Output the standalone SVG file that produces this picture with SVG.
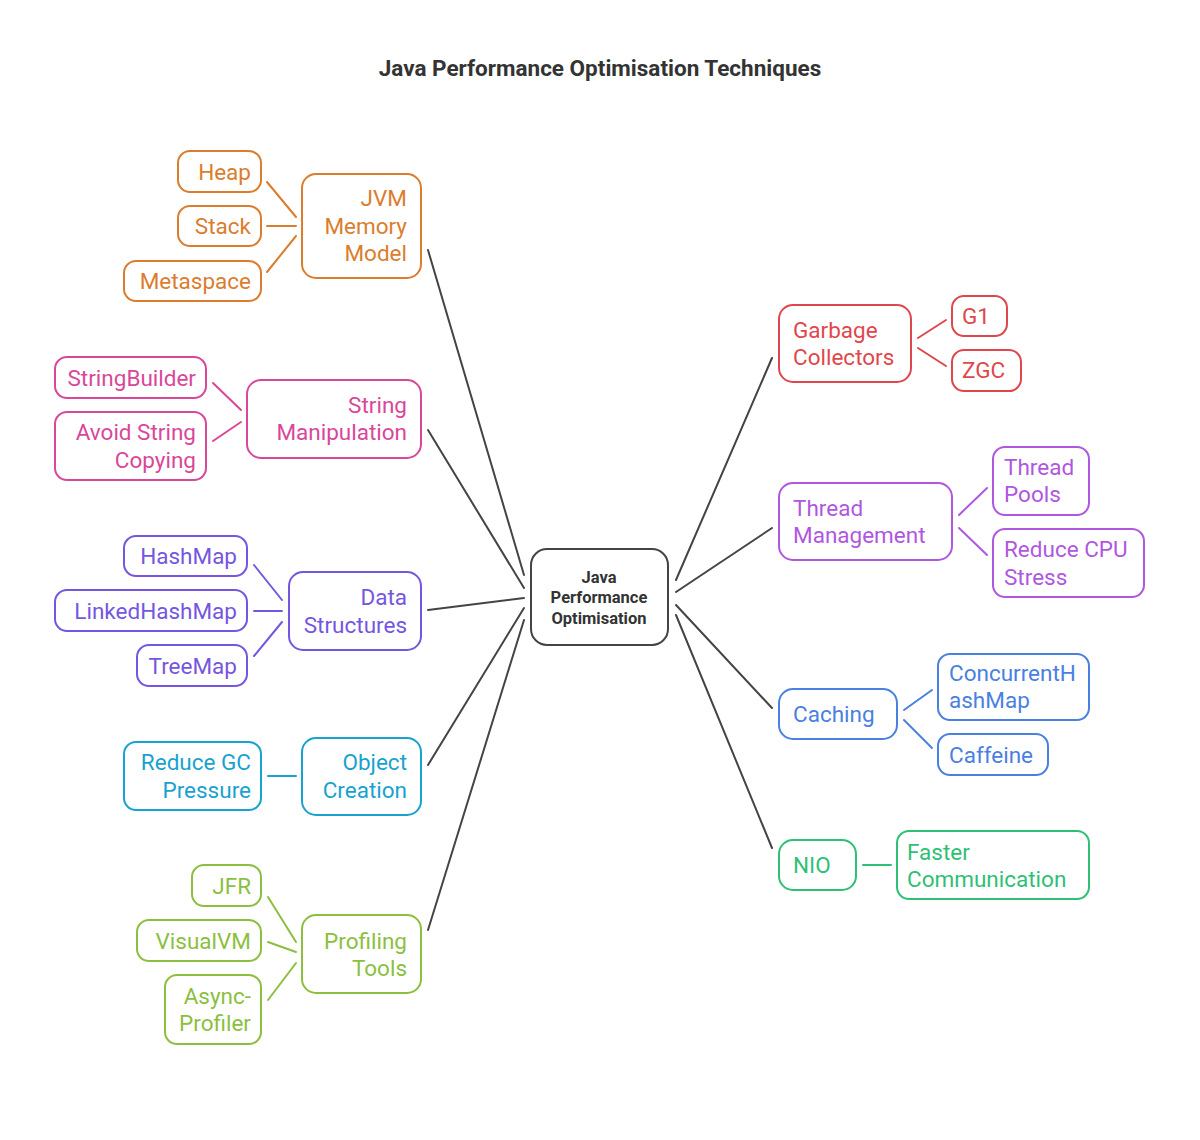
<svg xmlns="http://www.w3.org/2000/svg" width="1200" height="1140" viewBox="0 0 1200 1140">
<style>
text{font-family:Roboto,"Liberation Sans",sans-serif;font-size:22.5px}
.r{text-anchor:end}
.box{fill:#fff;stroke-width:2}
.c line{stroke-width:2;stroke-linecap:round}
.org{stroke:#DB7D2E}.torg{fill:#DB7D2E}
.pnk{stroke:#D9479A}.tpnk{fill:#D9479A}
.pur{stroke:#7556E0}.tpur{fill:#7556E0}
.cya{stroke:#19A2CF}.tcya{fill:#19A2CF}
.lim{stroke:#8CBF3F}.tlim{fill:#8CBF3F}
.red{stroke:#E0474C}.tred{fill:#E0474C}
.vio{stroke:#B057E0}.tvio{fill:#B057E0}
.blu{stroke:#4A80E0}.tblu{fill:#4A80E0}
.grn{stroke:#2FBF76}.tgrn{fill:#2FBF76}
.dk{stroke:#444}
.ct{font-size:16.5px;font-weight:bold;text-anchor:middle;fill:#333}
</style>
<rect width="1200" height="1140" fill="#fff"/>
<text x="600" y="76" text-anchor="middle" style="font-size:22.5px;font-weight:bold" fill="#333">Java Performance Optimisation Techniques</text>
<g class="c" id="connectors">
<line class="dk" x1="428" y1="250" x2="524" y2="575"/>
<line class="dk" x1="428" y1="430" x2="524" y2="588"/>
<line class="dk" x1="428" y1="610" x2="524" y2="598"/>
<line class="dk" x1="428" y1="765" x2="524" y2="608"/>
<line class="dk" x1="428" y1="930" x2="524" y2="620"/>
<line class="dk" x1="676" y1="580" x2="772" y2="358"/>
<line class="dk" x1="676" y1="592" x2="772" y2="528"/>
<line class="dk" x1="676" y1="605" x2="772" y2="708"/>
<line class="dk" x1="676" y1="615" x2="772" y2="848"/>
<line class="org" x1="267" y1="182" x2="296" y2="217"/>
<line class="org" x1="267" y1="226" x2="296" y2="226"/>
<line class="org" x1="267" y1="272" x2="296" y2="236"/>
<line class="pnk" x1="213" y1="383" x2="241" y2="410"/>
<line class="pnk" x1="213" y1="441" x2="241" y2="422"/>
<line class="pur" x1="254" y1="565" x2="282" y2="600"/>
<line class="pur" x1="254" y1="611" x2="282" y2="611"/>
<line class="pur" x1="254" y1="656" x2="282" y2="622"/>
<line class="cya" x1="268" y1="776" x2="296" y2="776"/>
<line class="lim" x1="268" y1="897" x2="296" y2="942"/>
<line class="lim" x1="268" y1="942" x2="296" y2="952"/>
<line class="lim" x1="268" y1="1000" x2="296" y2="963"/>
<line class="red" x1="918" y1="338" x2="946" y2="320"/>
<line class="red" x1="918" y1="348" x2="946" y2="366"/>
<line class="vio" x1="959" y1="515" x2="987" y2="488"/>
<line class="vio" x1="959" y1="528" x2="987" y2="555"/>
<line class="blu" x1="904" y1="710" x2="932" y2="690"/>
<line class="blu" x1="904" y1="720" x2="932" y2="748"/>
<line class="grn" x1="863" y1="865" x2="891" y2="865"/>
</g>
<g id="center">
<rect class="box dk" x="531" y="549" width="137" height="96" rx="16"/>
<text class="ct" x="599" y="583">Java</text>
<text class="ct" x="599" y="603">Performance</text>
<text class="ct" x="599" y="624">Optimisation</text>
</g>
<g id="jvm"><rect class="box org" x="302" y="174" width="119" height="104" rx="14"/>
<text class="r torg" x="407" y="206">JVM</text><text class="r torg" x="407" y="234">Memory</text><text class="r torg" x="407" y="261">Model</text></g>
<g id="heap"><rect class="box org" x="178" y="151" width="83" height="41" rx="12"/><text class="r torg" x="251" y="180">Heap</text></g>
<g id="stack"><rect class="box org" x="178" y="206" width="83" height="40" rx="12"/><text class="r torg" x="251" y="234">Stack</text></g>
<g id="metaspace"><rect class="box org" x="124" y="261" width="137" height="40" rx="12"/><text class="r torg" x="251" y="289">Metaspace</text></g>

<g id="string"><rect class="box pnk" x="247" y="380" width="174" height="78" rx="14"/>
<text class="r tpnk" x="407" y="413">String</text><text class="r tpnk" x="407" y="440">Manipulation</text></g>
<g id="sb"><rect class="box pnk" x="55" y="357" width="151" height="41" rx="12"/><text class="r tpnk" x="196" y="386">StringBuilder</text></g>
<g id="avoid"><rect class="box pnk" x="55" y="412" width="151" height="68" rx="12"/><text class="r tpnk" x="196" y="440">Avoid String</text><text class="r tpnk" x="196" y="468">Copying</text></g>

<g id="data"><rect class="box pur" x="289" y="572" width="132" height="78" rx="14"/>
<text class="r tpur" x="407" y="605">Data</text><text class="r tpur" x="407" y="633">Structures</text></g>
<g id="hashmap"><rect class="box pur" x="124" y="536" width="123" height="40" rx="12"/><text class="r tpur" x="237" y="564">HashMap</text></g>
<g id="linked"><rect class="box pur" x="55" y="590" width="192" height="41" rx="12"/><text class="r tpur" x="237" y="619">LinkedHashMap</text></g>
<g id="treemap"><rect class="box pur" x="137" y="645" width="110" height="41" rx="12"/><text class="r tpur" x="237" y="674">TreeMap</text></g>

<g id="object"><rect class="box cya" x="302" y="738" width="119" height="77" rx="14"/>
<text class="r tcya" x="407" y="770">Object</text><text class="r tcya" x="407" y="798">Creation</text></g>
<g id="gcp"><rect class="box cya" x="124" y="742" width="137" height="68" rx="12"/><text class="r tcya" x="251" y="770">Reduce GC</text><text class="r tcya" x="251" y="798">Pressure</text></g>

<g id="profiling"><rect class="box lim" x="302" y="915" width="119" height="78" rx="14"/>
<text class="r tlim" x="407" y="949">Profiling</text><text class="r tlim" x="407" y="976">Tools</text></g>
<g id="jfr"><rect class="box lim" x="192" y="865" width="69" height="41" rx="12"/><text class="r tlim" x="251" y="894">JFR</text></g>
<g id="visualvm"><rect class="box lim" x="137" y="920" width="124" height="41" rx="12"/><text class="r tlim" x="251" y="949">VisualVM</text></g>
<g id="async"><rect class="box lim" x="165" y="975" width="96" height="69" rx="12"/><text class="r tlim" x="251" y="1004">Async-</text><text class="r tlim" x="251" y="1031">Profiler</text></g>

<g id="gc"><rect class="box red" x="779" y="305" width="132" height="77" rx="14"/>
<text class="tred" x="793" y="338">Garbage</text><text class="tred" x="793" y="365">Collectors</text></g>
<g id="g1"><rect class="box red" x="952" y="296" width="55" height="40" rx="12"/><text class="tred" x="962" y="324">G1</text></g>
<g id="zgc"><rect class="box red" x="952" y="350" width="69" height="41" rx="12"/><text class="tred" x="962" y="378">ZGC</text></g>

<g id="thread"><rect class="box vio" x="779" y="483" width="173" height="77" rx="14"/>
<text class="tvio" x="793" y="516">Thread</text><text class="tvio" x="793" y="543">Management</text></g>
<g id="pools"><rect class="box vio" x="993" y="447" width="96" height="68" rx="12"/><text class="tvio" x="1004" y="475">Thread</text><text class="tvio" x="1004" y="502">Pools</text></g>
<g id="cpu"><rect class="box vio" x="993" y="529" width="151" height="68" rx="12"/><text class="tvio" x="1004" y="557">Reduce CPU</text><text class="tvio" x="1004" y="585">Stress</text></g>

<g id="caching"><rect class="box blu" x="779" y="689" width="118" height="50" rx="14"/><text class="tblu" x="793" y="722">Caching</text></g>
<g id="chm"><rect class="box blu" x="938" y="654" width="151" height="66" rx="12"/><text class="tblu" x="949" y="681">ConcurrentH</text><text class="tblu" x="949" y="708">ashMap</text></g>
<g id="caffeine"><rect class="box blu" x="938" y="734" width="110" height="41" rx="12"/><text class="tblu" x="949" y="763">Caffeine</text></g>

<g id="nio"><rect class="box grn" x="779" y="840" width="77" height="50" rx="14"/><text class="tgrn" x="793" y="873">NIO</text></g>
<g id="faster"><rect class="box grn" x="897" y="831" width="192" height="68" rx="12"/><text class="tgrn" x="907" y="860">Faster</text><text class="tgrn" x="907" y="887">Communication</text></g>
</svg>
